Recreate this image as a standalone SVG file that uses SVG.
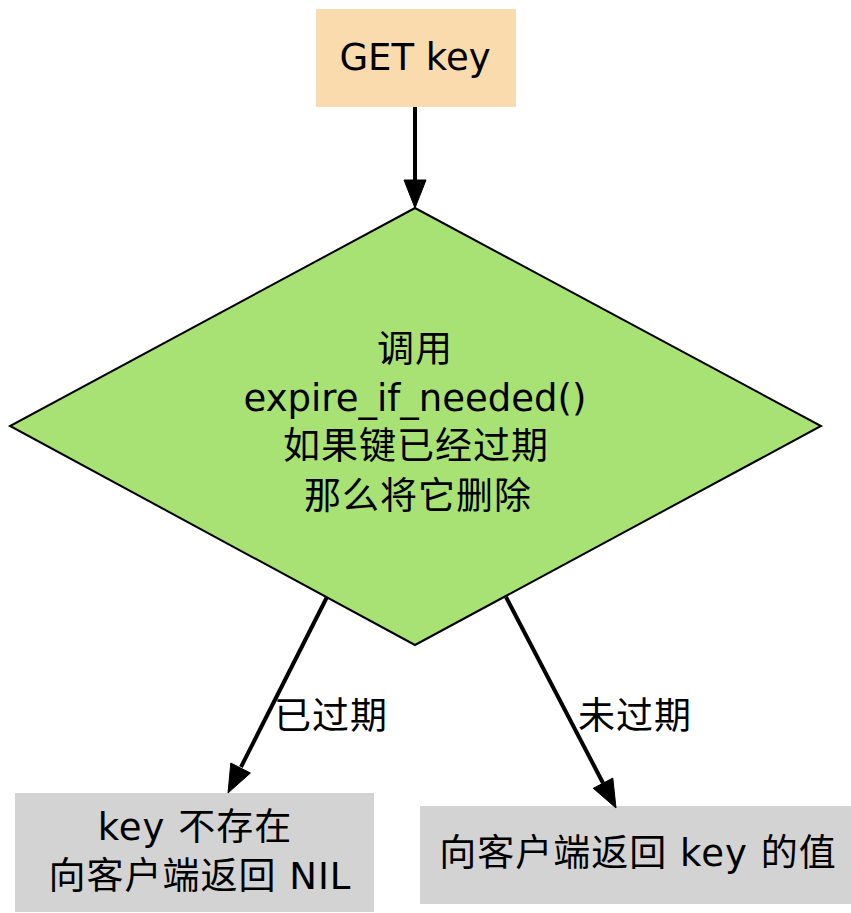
<svg xmlns="http://www.w3.org/2000/svg" width="851" height="913" viewBox="0 0 851 913">
<style>
text{font-family:"DejaVu Sans","Noto Sans CJK SC",sans-serif;font-size:37px;fill:#000;text-anchor:middle}
.cjk{letter-spacing:1px}
.edge{stroke:#000;stroke-width:4;fill:none}
.head{fill:#000;stroke:#000;stroke-width:1}
</style>
<rect width="851" height="913" fill="#fff"/>
<g id="get">
<rect x="316" y="9" width="200" height="98" fill="#f9dbad"/>
<text x="415" y="70">GET key</text>
</g>
<g id="check">
<polygon points="415,208 821,426 415,645 10,426" fill="#a8e274" stroke="#000" stroke-width="2"/>
<text class="cjk" x="415" y="362">调用</text>
<text x="415" y="411">expire_if_needed()</text>
<text class="cjk" x="416" y="459">如果键已经过期</text>
<text class="cjk" x="418" y="509">那么将它删除</text>
</g>
<g id="nil">
<rect x="15" y="793" width="359" height="119" fill="#d3d3d3"/>
<text class="cjk" x="195" y="840">key 不存在</text>
<text class="cjk" x="200" y="889">向客户端返回 NIL</text>
</g>
<g id="value">
<rect x="420" y="806" width="431" height="98" fill="#d3d3d3"/>
<text class="cjk" x="638" y="866">向客户端返回 key 的值</text>
</g>
<g id="connectors">
<line class="edge" x1="327" y1="597" x2="241" y2="767"/>
<line class="edge" x1="415" y1="107" x2="415" y2="181"/>
<polygon class="head" points="404,180 426,180 415,208"/>
<polygon class="head" points="250.4,773 230.8,763 228,793"/>
<text class="cjk" x="331" y="729">已过期</text>
<line class="edge" x1="506" y1="597" x2="603" y2="783"/>
<polygon class="head" points="612.8,778.1 593.3,788.3 616,808"/>
<text class="cjk" x="635" y="729">未过期</text>
</g>
</svg>
